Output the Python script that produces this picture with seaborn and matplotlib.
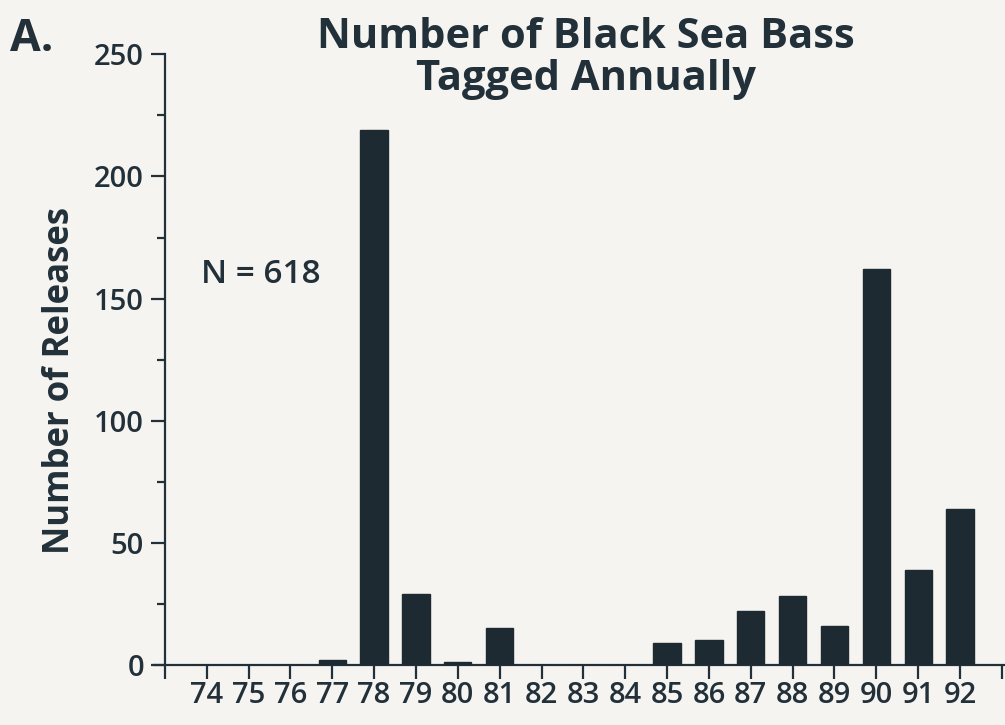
import matplotlib
matplotlib.use("Agg")
import matplotlib.pyplot as plt
import seaborn as sns
import pandas as pd
from matplotlib.ticker import MultipleLocator

# =========================
# DATA
# =========================
years = [74, 75, 76, 77, 78, 79, 80, 81, 82, 83, 84, 85, 86, 87, 88, 89, 90, 91, 92]
releases = [0, 0, 0, 2, 219, 29, 1, 15, 0, 0, 0, 9, 10, 22, 28, 16, 162, 39, 64]
total_n = 618

BG = "#f6f4f0"
INK = "#22303a"
BAR = "#1d2a31"

sns.set_theme(style="ticks")
plt.rcParams["font.family"] = ["Open Sans", "DejaVu Sans"]

df = pd.DataFrame({"year": years, "releases": releases})

fig = plt.figure(figsize=(10.05, 7.25), dpi=100, facecolor=BG)
ax = fig.add_axes([0.164, 0.083, 0.835, 0.842])
ax.set_facecolor(BG)

# numeric x so bars sit on the year values
ax.bar(df["year"], df["releases"], width=0.65, color=BAR, edgecolor=BAR, zorder=3)

ax.set_xlim(73, 93.05)
ax.set_ylim(0, 250)
ax.set_xticks(range(73, 94))
ax.set_xticklabels([""] + [str(y) for y in years] + [""])
ax.yaxis.set_major_locator(MultipleLocator(50))
ax.yaxis.set_minor_locator(MultipleLocator(25))

sns.despine(ax=ax, top=True, right=True)
ax.spines["left"].set_bounds(0, 250)
ax.spines["bottom"].set_bounds(72.75, 93.05)
for s in ("left", "bottom"):
    ax.spines[s].set_color(INK)
    ax.spines[s].set_linewidth(1.6)

ax.tick_params(axis="x", direction="out", length=10, width=1.6, color=INK,
               labelsize=21, labelcolor=INK, pad=2)
ax.tick_params(axis="y", which="major", direction="out", length=10, width=1.6,
               color=INK, labelsize=21, labelcolor=INK, pad=5)
ax.tick_params(axis="y", which="minor", direction="out", length=6, width=1.6,
               color=INK)
for lbl in ax.get_xticklabels() + ax.get_yticklabels():
    lbl.set_fontweight("semibold")

ax.set_ylabel("Number of Releases", fontsize=25, fontweight="bold", color=INK)
ax.yaxis.set_label_coords(-0.104, 0.466)
ax.set_xlabel("")

fig.text(0.583, 0.948, "Number of Black Sea Bass", ha="center", va="center",
         fontsize=30, fontweight="bold", color=INK)
fig.text(0.583, 0.890, "Tagged Annually", ha="center", va="center",
         fontsize=30, fontweight="bold", color=INK)
fig.text(0.01, 0.946, "A.", ha="left", va="center", fontsize=32,
         fontweight="bold", color=INK)
ax.text(75.3, 160, f"N = {total_n}", ha="center", va="center", fontsize=24,
        fontweight="semibold", color=INK)

plt.savefig("out.png", dpi=100, facecolor=BG)
